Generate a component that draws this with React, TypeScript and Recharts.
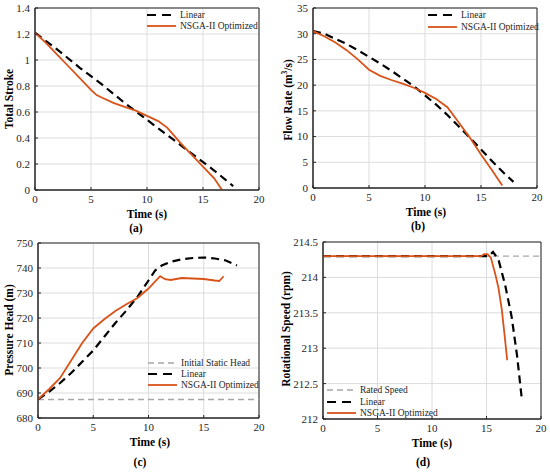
import React from "react"
import {
  LineChart,
  Line,
  XAxis,
  YAxis,
  CartesianGrid,
  ReferenceArea,
} from "recharts"

// ---- data ----
const timeTicks = [0, 5, 10, 15, 20]

const strokeTicks = [0, 0.2, 0.4, 0.6, 0.8, 1, 1.2, 1.4]
const strokeLinear = [
  { t: 0, v: 1.21 }, { t: 2, v: 1.08 }, { t: 4, v: 0.94 }, { t: 6, v: 0.81 },
  { t: 8, v: 0.67 }, { t: 10, v: 0.54 }, { t: 12, v: 0.41 }, { t: 14, v: 0.28 },
  { t: 16, v: 0.15 }, { t: 17.7, v: 0.03 },
]
const strokeOptimized = [
  { t: 0, v: 1.21 }, { t: 1, v: 1.13 }, { t: 2, v: 1.04 }, { t: 3, v: 0.95 },
  { t: 4, v: 0.86 }, { t: 5, v: 0.77 }, { t: 5.5, v: 0.73 }, { t: 6, v: 0.71 },
  { t: 7, v: 0.67 }, { t: 8, v: 0.64 }, { t: 9, v: 0.61 }, { t: 10, v: 0.57 },
  { t: 11, v: 0.53 }, { t: 11.8, v: 0.48 }, { t: 12.5, v: 0.41 }, { t: 13, v: 0.36 },
  { t: 14, v: 0.27 }, { t: 15, v: 0.18 }, { t: 16, v: 0.09 }, { t: 16.7, v: 0 },
]

const flowTicks = [0, 5, 10, 15, 20, 25, 30, 35]
const flowLinear = [
  { t: 0, v: 30.5 }, { t: 1, v: 30 }, { t: 2, v: 29 }, { t: 3, v: 28 },
  { t: 4, v: 26.8 }, { t: 5, v: 25.5 }, { t: 6, v: 24.2 }, { t: 7, v: 22.8 },
  { t: 8, v: 21.3 }, { t: 9, v: 19.8 }, { t: 10, v: 18 }, { t: 11, v: 16.2 },
  { t: 12, v: 14.2 }, { t: 13, v: 12 }, { t: 14, v: 9.8 }, { t: 15, v: 7.5 },
  { t: 16, v: 5.2 }, { t: 17, v: 3 }, { t: 17.9, v: 1.2 },
]
const flowOptimized = [
  { t: 0, v: 30.5 }, { t: 1, v: 29.5 }, { t: 2, v: 28.3 }, { t: 3, v: 26.8 },
  { t: 4, v: 25 }, { t: 5, v: 23 }, { t: 6, v: 21.8 }, { t: 7, v: 21 },
  { t: 8, v: 20.3 }, { t: 9, v: 19.5 }, { t: 10, v: 18.5 }, { t: 11, v: 17.3 },
  { t: 12, v: 15.7 }, { t: 13, v: 12.8 }, { t: 14, v: 9.8 }, { t: 15, v: 6.5 },
  { t: 16, v: 3.4 }, { t: 16.9, v: 0.5 },
]

const headTicks = [680, 690, 700, 710, 720, 730, 740, 750]
const headStatic = [{ t: 0, v: 687.4 }, { t: 20, v: 687.4 }]
const headLinear = [
  { t: 0, v: 687.5 }, { t: 1, v: 690.5 }, { t: 2, v: 694 }, { t: 3, v: 698 },
  { t: 4, v: 702.5 }, { t: 5, v: 707 }, { t: 6, v: 712.5 }, { t: 7, v: 718 },
  { t: 8, v: 723 }, { t: 9, v: 728.5 }, { t: 10, v: 735 }, { t: 10.6, v: 739 },
  { t: 11.2, v: 741 }, { t: 12, v: 742.5 }, { t: 13, v: 743.5 }, { t: 14, v: 744 },
  { t: 15, v: 744.2 }, { t: 16, v: 743.8 }, { t: 17, v: 743 }, { t: 18, v: 741 },
]
const headOptimized = [
  { t: 0, v: 687.5 }, { t: 1, v: 691.5 }, { t: 2, v: 696 }, { t: 3, v: 703 },
  { t: 4, v: 710 }, { t: 5, v: 715.8 }, { t: 6, v: 719.5 }, { t: 7, v: 722.8 },
  { t: 8, v: 725.5 }, { t: 9, v: 728 }, { t: 10, v: 731.8 }, { t: 11.05, v: 736.7 },
  { t: 11.5, v: 735.5 }, { t: 12, v: 735.2 }, { t: 13, v: 736 }, { t: 14, v: 735.8 },
  { t: 15, v: 735.6 }, { t: 16, v: 735 }, { t: 16.4, v: 734.8 }, { t: 16.8, v: 736.7 },
]

const speedTicks = [212, 212.5, 213, 213.5, 214, 214.5]
const speedRated = [{ t: 0, v: 214.3 }, { t: 20, v: 214.3 }]
const speedLinear = [
  { t: 0, v: 214.3 }, { t: 15.2, v: 214.3 }, { t: 15.6, v: 214.36 }, { t: 16.1, v: 214.25 },
  { t: 16.7, v: 213.9 }, { t: 17.3, v: 213.45 }, { t: 17.8, v: 212.9 }, { t: 18.25, v: 212.27 },
]
const speedOptimized = [
  { t: 0, v: 214.3 }, { t: 14.5, v: 214.3 }, { t: 14.8, v: 214.33 }, { t: 15.1, v: 214.33 },
  { t: 15.4, v: 214.28 }, { t: 15.8, v: 214.05 }, { t: 16.1, v: 213.85 }, { t: 16.4, v: 213.55 },
  { t: 16.65, v: 213.2 }, { t: 16.9, v: 212.83 },
]

const FONT = "Liberation Serif, Times New Roman, serif"
const ORANGE = "#D95319"
const AXIS = "#262626"
const GRID = "#dcdcdc"

type Pt = { t: number; v: number }

interface PanelProps {
  left: number
  top: number
  margin: { l: number; r: number; t: number; b: number }
  yTicks: number[]
  linear: Pt[]
  optimized: Pt[]
  reference?: Pt[]
}

function Panel({ left, top, margin, yTicks, linear, optimized, reference }: PanelProps) {
  const yMin = yTicks[0]
  const yMax = yTicks[yTicks.length - 1]
  const tick = { fontSize: 11, fill: AXIS, fontFamily: FONT }
  return (
    <div style={{ position: "absolute", left, top }}>
      <LineChart
        width={275}
        height={236}
        margin={{ top: margin.t, right: margin.r, left: 0, bottom: 0 }}
        style={{ fontFamily: FONT }}
      >
        <CartesianGrid stroke={GRID} strokeWidth={1} />
        {/* negative tickSize gives MATLAB-style inward ticks */}
        <XAxis
          type="number"
          dataKey="t"
          domain={[0, 20]}
          ticks={timeTicks}
          allowDataOverflow
          height={margin.b}
          tick={tick}
          tickLine={{ stroke: AXIS }}
          tickSize={-3}
          tickMargin={8}
          axisLine={{ stroke: AXIS }}
        />
        <YAxis
          type="number"
          dataKey="v"
          domain={[yMin, yMax]}
          ticks={yTicks}
          allowDataOverflow
          width={margin.l}
          tick={tick}
          tickLine={{ stroke: AXIS }}
          tickSize={-3}
          tickMargin={8}
          axisLine={{ stroke: AXIS }}
        />
        <ReferenceArea x1={0} x2={20} y1={yMin} y2={yMax} fill="none" fillOpacity={0} stroke={AXIS} strokeWidth={1} />
        {reference && (
          <Line data={reference} dataKey="v" stroke="#a6a6a6" strokeWidth={1.3} strokeDasharray="6 4" dot={false} isAnimationActive={false} />
        )}
        <Line data={linear} dataKey="v" stroke="#000" strokeWidth={2.2} strokeDasharray="8 5" dot={false} isAnimationActive={false} />
        <Line data={optimized} dataKey="v" stroke={ORANGE} strokeWidth={1.8} dot={false} isAnimationActive={false} />
      </LineChart>
    </div>
  )
}

function LegendItem({ x, y, kind, label }: { x: number; y: number; kind: "ref" | "lin" | "opt"; label: string }) {
  const stroke = kind === "ref" ? "#a6a6a6" : kind === "lin" ? "#000" : ORANGE
  const dash = kind === "ref" ? "6 4" : kind === "lin" ? "9 6" : undefined
  const w = kind === "ref" ? 1.3 : kind === "lin" ? 2.2 : 1.8
  return (
    <div style={{ position: "absolute", left: x, top: y - 7, height: 14, display: "flex", alignItems: "center", fontFamily: FONT, fontSize: 9.5, color: AXIS, whiteSpace: "nowrap" }}>
      <svg width={29} height={14} style={{ marginRight: 4 }}>
        <line x1={0} x2={29} y1={7} y2={7} stroke={stroke} strokeWidth={w} strokeDasharray={dash} />
      </svg>
      {label}
    </div>
  )
}

function Text({ x, y, children, size = 11.5, rotate = false }: any) {
  return (
    <div
      style={{
        position: "absolute",
        left: x,
        top: y,
        transform: `translate(-50%, -50%)${rotate ? " rotate(-90deg)" : ""}`,
        fontFamily: FONT,
        fontSize: size,
        fontWeight: "bold",
        lineHeight: 1,
        color: "#000",
        whiteSpace: "nowrap",
      }}
    >
      {children}
    </div>
  )
}

export default function App() {
  return (
    <div style={{ position: "absolute", left: 0, top: 0, width: 550, height: 472, background: "#fff", overflow: "hidden" }}>
      <Panel left={0} top={0} margin={{ l: 35, r: 16, t: 8, b: 46 }} yTicks={strokeTicks} linear={strokeLinear} optimized={strokeOptimized} />
      <Panel left={275} top={0} margin={{ l: 38, r: 13, t: 8, b: 48 }} yTicks={flowTicks} linear={flowLinear} optimized={flowOptimized} />
      <Panel left={0} top={236} margin={{ l: 38, r: 16, t: 7, b: 54 }} yTicks={headTicks} linear={headLinear} optimized={headOptimized} reference={headStatic} />
      <Panel left={275} top={236} margin={{ l: 48, r: 9, t: 6, b: 53 }} yTicks={speedTicks} linear={speedLinear} optimized={speedOptimized} reference={speedRated} />

      <LegendItem x={147} y={15} kind="lin" label="Linear" />
      <LegendItem x={147} y={26} kind="opt" label="NSGA-II Optimized" />
      <LegendItem x={428} y={15} kind="lin" label="Linear" />
      <LegendItem x={428} y={27} kind="opt" label="NSGA-II Optimized" />
      <LegendItem x={148} y={363} kind="ref" label="Initial Static Head" />
      <LegendItem x={148} y={374} kind="lin" label="Linear" />
      <LegendItem x={148} y={385} kind="opt" label="NSGA-II Optimized" />
      <LegendItem x={327} y={390} kind="ref" label="Rated Speed" />
      <LegendItem x={327} y={402} kind="lin" label="Linear" />
      <LegendItem x={327} y={413} kind="opt" label="NSGA-II Optimized" />

      <Text x={10} y={99} rotate>Total Stroke</Text>
      <Text x={288} y={100} rotate>Flow Rate (m<sup style={{ fontSize: 7.5, verticalAlign: "super" }}>3</sup>/s)</Text>
      <Text x={10} y={330} rotate>Pressure Head (m)</Text>
      <Text x={287} y={329} rotate>Rotational Speed (rpm)</Text>

      <Text x={147} y={215}>Time (s)</Text>
      <Text x={426} y={213}>Time (s)</Text>
      <Text x={150} y={443}>Time (s)</Text>
      <Text x={432} y={444}>Time (s)</Text>

      <Text x={136} y={229}>(a)</Text>
      <Text x={418} y={227}>(b)</Text>
      <Text x={140} y={463}>(c)</Text>
      <Text x={423} y={463}>(d)</Text>
    </div>
  )
}
